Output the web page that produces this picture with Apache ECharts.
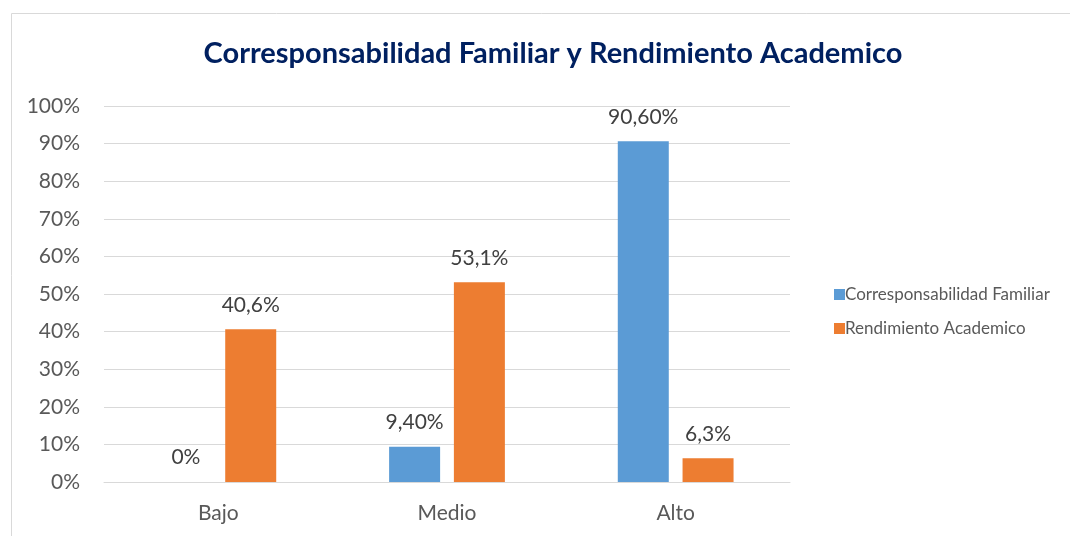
<!DOCTYPE html>
<html><head><meta charset="utf-8">
<script src="https://cdn.jsdelivr.net/npm/echarts@6/dist/echarts.min.js"></script>
<style>html,body{margin:0;padding:0;background:#fff}#c{width:1070px;height:536px}</style>
</head><body><div id="c"></div>
<script>
const categories = ['Bajo', 'Medio', 'Alto'];
const seriesNames = ['Corresponsabilidad Familiar', 'Rendimiento Academico'];
const corresponsabilidad = [0, 9.4, 90.6];
const rendimiento = [40.6, 53.1, 6.3];
const corresponsabilidadLabels = ['0%', '9,40%', '90,60%'];
const rendimientoLabels = ['40,6%', '53,1%', '6,3%'];
const yTicks = [0, 10, 20, 30, 40, 50, 60, 70, 80, 90, 100];

const FONT = 'Lato, "Open Sans", sans-serif';
const chart = echarts.init(document.getElementById('c'), null, {renderer: 'canvas'});
chart.setOption({
  animation: false,
  textStyle: {fontFamily: FONT},
  graphic: [{type: 'rect', shape: {x: 11.5, y: 13.5, width: 1100, height: 600},
    style: {fill: 'none', stroke: '#d9d9d9', lineWidth: 1}, silent: true}],
  title: {text: 'Corresponsabilidad Familiar y Rendimiento Academico', left: 548, textAlign: 'center', top: 34,
    textStyle: {fontFamily: FONT, fontSize: 29, fontWeight: 'bold', color: '#002060'}},
  legend: {orient: 'vertical', left: 829, top: 281, itemWidth: 11, itemHeight: 11, itemGap: 17,
    icon: 'rect', data: seriesNames,
    textStyle: {fontFamily: FONT, fontSize: 17, color: '#595959', padding: [0, 0, 0, -5]}},
  grid: {left: 104, right: 280, top: 106, bottom: 54, containLabel: false},
  xAxis: {type: 'category', data: categories,
    axisLine: {show: true, lineStyle: {color: '#d9d9d9', width: 1}}, axisTick: {show: false},
    axisLabel: {fontFamily: FONT, fontSize: 21, color: '#595959', margin: 21}},
  yAxis: {type: 'value', min: 0, max: 100, interval: 10,
    axisLine: {show: false}, axisTick: {show: false},
    splitLine: {lineStyle: {color: '#d9d9d9', width: 1}},
    axisLabel: {fontFamily: FONT, fontSize: 21, color: '#595959', margin: 24,
      formatter: v => yTicks.includes(v) ? v + '%' : ''}},
  series: [
    {name: seriesNames[0], type: 'bar', data: corresponsabilidad, barWidth: 51, barGap: '27%',
      itemStyle: {color: '#5b9bd5'},
      label: {show: true, position: 'top', distance: 14, fontFamily: FONT, fontSize: 21, color: '#404040',
        formatter: p => corresponsabilidadLabels[p.dataIndex]}},
    {name: seriesNames[1], type: 'bar', data: rendimiento, barWidth: 51,
      itemStyle: {color: '#ed7d31'},
      label: {show: true, position: 'top', distance: 14, fontFamily: FONT, fontSize: 21, color: '#404040',
        formatter: p => rendimientoLabels[p.dataIndex]}}
  ]
});
</script></body></html>
